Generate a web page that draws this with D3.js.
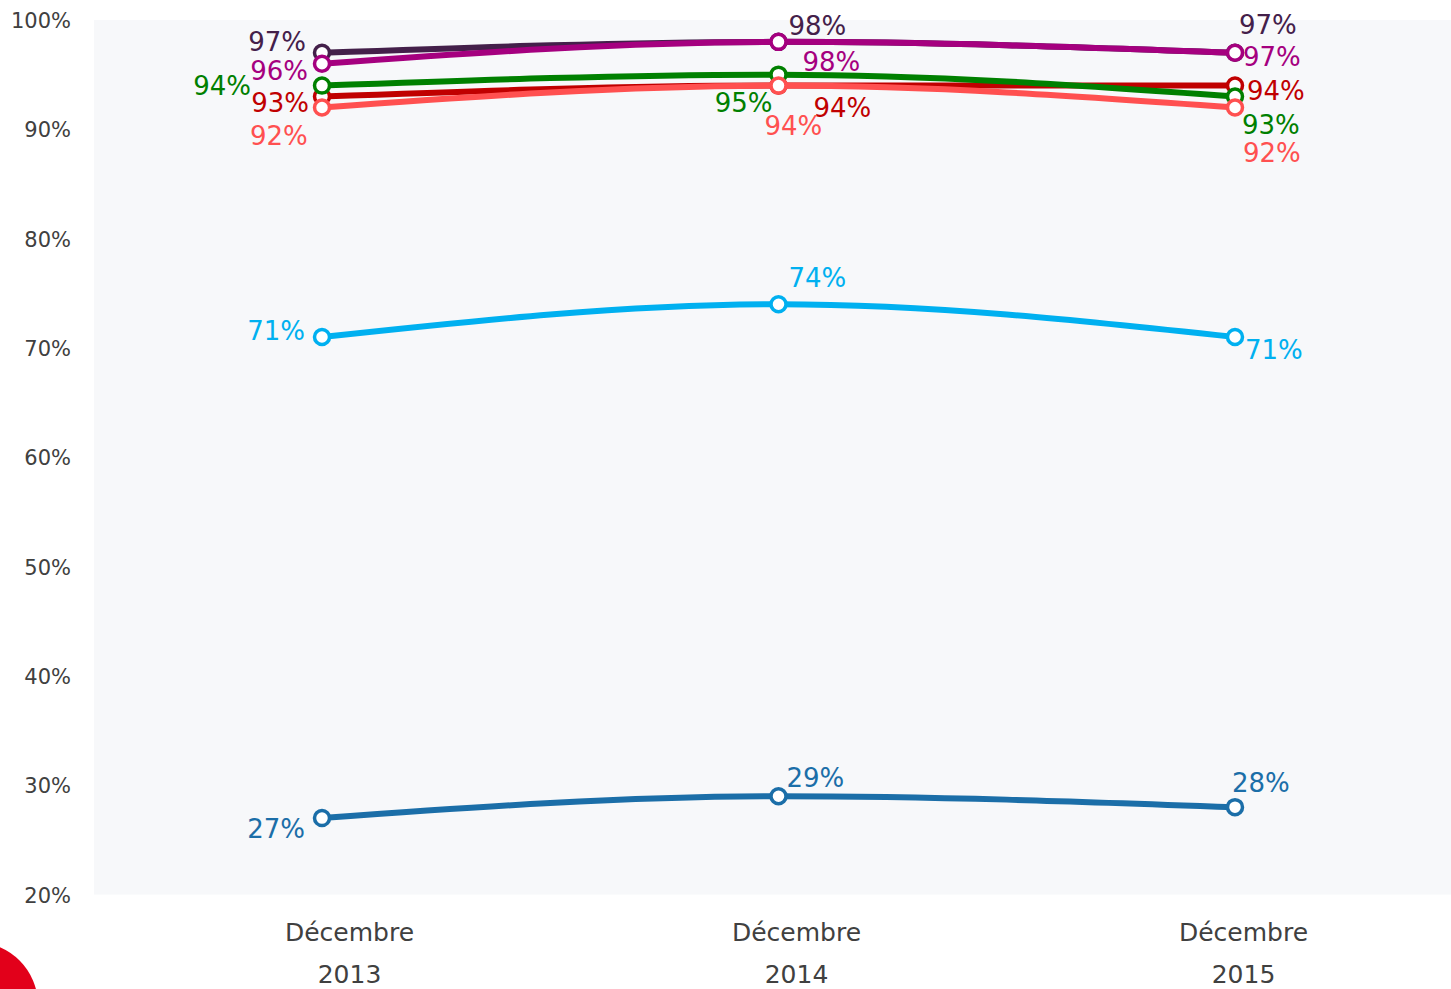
<!DOCTYPE html>
<html>
<head>
<meta charset="utf-8">
<script src="https://cdnjs.cloudflare.com/ajax/libs/d3/7.8.5/d3.min.js"></script>
<style>
  body { margin: 0; background: #fff; }
  svg { display: block; font-family: "DejaVu Sans", Verdana, sans-serif; }
</style>
</head>
<body>
<svg id="vis" width="1451" height="989"></svg>
<script>
// data
var periods = ["Décembre 2013", "Décembre 2014", "Décembre 2015"];
var yTicks = [20, 30, 40, 50, 60, 70, 80, 90, 100];

var serieDarkPurple = [97, 98, 97];
var serieMagenta = [96, 98, 97];
var serieDarkRed = [93, 94, 94];
var serieGreen = [94, 95, 93];
var serieSalmon = [92, 94, 92];
var serieCyan = [71, 74, 71];
var serieBlue = [27, 29, 28];

// styles / label placement (dx, dy from point, anchor)
var colors = ["#44204a", "#a5007f", "#c00000", "#008000", "#ff5050", "#00b0f0", "#1b6ea8"];
var labelPos = [
    [[-16, -11, "end"], [10, -16, "start"], [4, -28, "start"]],
    [[-14, 7, "end"], [24, 20, "start"], [8, 4, "start"]],
    [[-13, 6, "end"], [35, 22, "start"], [12, 5, "start"]],
    [[-71, 0, "end"], [-6, 28, "end"], [7, 28, "start"]],
    [[-72, 28, "start"], [-14, 40, "start"], [8, 45, "start"]],
    [[-17, -6, "end"], [10, -27, "start"], [10, 13, "start"]],
    [[-17, 11, "end"], [8, -19, "start"], [-3, -25, "start"]]
];

var allSeries = [serieDarkPurple, serieMagenta, serieDarkRed, serieGreen, serieSalmon, serieCyan, serieBlue];

var svg = d3.select("#vis");

// scales
var x = d3.scalePoint().domain(periods).range([322, 1235]);
var xLabel = d3.scalePoint().domain(periods).range([349, 1243]);
var y = d3.scaleLinear().domain([20, 100]).range([894.6, 20]);

// plot background
svg.append("rect")
    .attr("x", 94)
    .attr("y", y(100))
    .attr("width", 1451 - 94)
    .attr("height", y(20) - y(100))
    .style("fill", "#f7f8fa");

// logo bit bottom-left
svg.append("circle")
    .attr("cx", -25)
    .attr("cy", 1005)
    .attr("r", 63)
    .style("fill", "#e2001a");

// y axis
var yAxis = svg.append("g")
    .attr("transform", "translate(71,0)")
    .call(d3.axisLeft(y).tickValues(yTicks).tickSize(0).tickPadding(0)
        .tickFormat(function (d) { return d + "%"; }));
yAxis.select(".domain").remove();
yAxis.selectAll("text")
    .style("font-size", "21px")
    .style("font-family", "DejaVu Sans, sans-serif")
    .attr("fill", "#404040")
    .attr("dy", "0.36em");

// x axis
var xAxis = svg.append("g")
    .attr("transform", "translate(0,913)")
    .call(d3.axisBottom(xLabel).tickSize(0).tickPadding(0).tickFormat(""));
xAxis.select(".domain").remove();
xAxis.selectAll(".tick").each(function (d) {
    var parts = d.split(" ");
    var t = d3.select(this).append("text")
        .attr("text-anchor", "middle")
        .attr("fill", "#404040")
        .style("font-size", "25px")
        .style("font-family", "DejaVu Sans, sans-serif");
    t.append("tspan").attr("x", 0).attr("y", 28).text(parts[0]);
    t.append("tspan").attr("x", 0).attr("y", 70).text(parts[1]);
});

// lines
var line = d3.line()
    .x(function (d, i) { return x(periods[i]); })
    .y(function (d) { return y(d); })
    .curve(d3.curveMonotoneX);

var groups = svg.selectAll(".serie")
    .data(allSeries)
    .enter()
    .append("g")
    .attr("class", "serie");

groups.append("path")
    .attr("d", function (d) { return line(d); })
    .attr("fill", "none")
    .attr("stroke", function (d, i) { return colors[i]; })
    .attr("stroke-width", 6)
    .attr("stroke-linecap", "round");

groups.each(function (vals, si) {
    var g = d3.select(this);
    g.selectAll("circle")
        .data(vals)
        .enter()
        .append("circle")
        .attr("cx", function (d, i) { return x(periods[i]); })
        .attr("cy", function (d) { return y(d); })
        .attr("r", 7.5)
        .style("fill", "#fff")
        .style("stroke", colors[si])
        .style("stroke-width", 3.5);
});

// labels on top
groups.each(function (vals, si) {
    svg.append("g").selectAll("text")
        .data(vals)
        .enter()
        .append("text")
        .attr("x", function (d, i) { return x(periods[i]) + labelPos[si][i][0]; })
        .attr("y", function (d, i) { return y(d) + labelPos[si][i][1]; })
        .attr("dy", "0.36em")
        .attr("text-anchor", function (d, i) { return labelPos[si][i][2]; })
        .attr("fill", colors[si])
        .style("font-size", "26px")
        .text(function (d) { return d + "%"; });
});
</script>
</body>
</html>
